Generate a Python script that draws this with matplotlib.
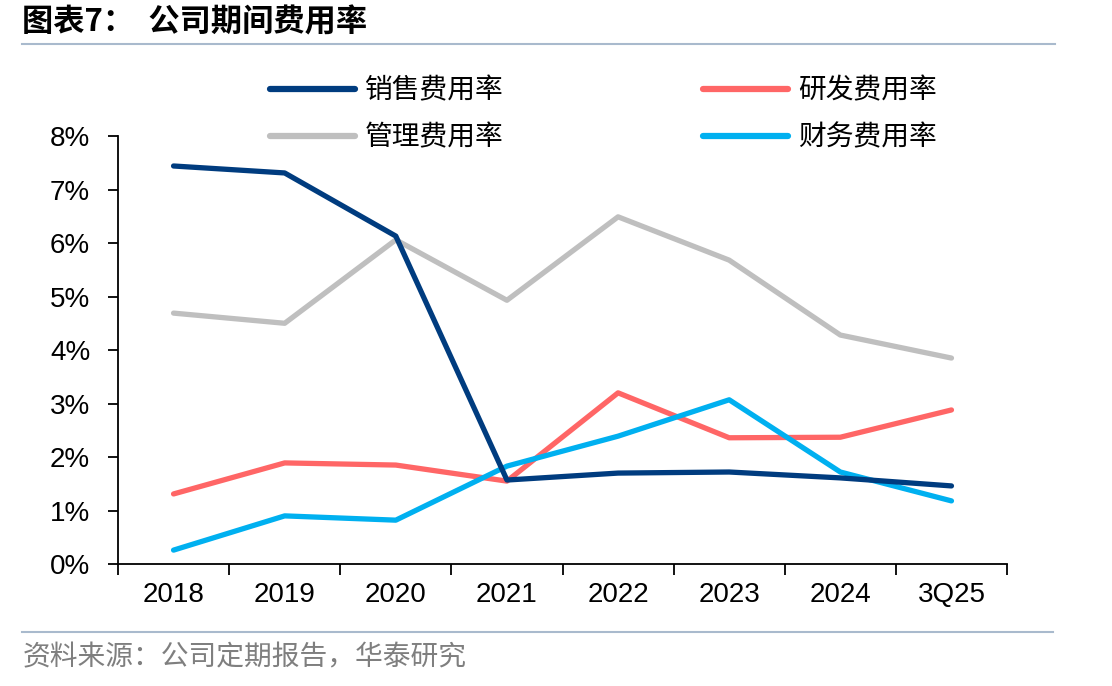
import numpy as np
import matplotlib as mpl
import matplotlib.pyplot as plt
from matplotlib.lines import Line2D

mpl.use('Agg')
plt.rcParams['font.family'] = ['Noto Sans CJK SC', 'DejaVu Sans']

years = ['2018', '2019', '2020', '2021', '2022', '2023', '2024', '3Q25']
sales = [7.44, 7.31, 6.13, 1.57, 1.70, 1.72, 1.61, 1.46]
rnd = [1.31, 1.89, 1.85, 1.55, 3.20, 2.36, 2.37, 2.88]
admin = [4.69, 4.50, 6.06, 4.93, 6.49, 5.68, 4.28, 3.85]
finance = [0.26, 0.90, 0.82, 1.83, 2.39, 3.07, 1.72, 1.18]

sales_s = ('销售费用率', sales, '#003C7F')
rnd_s = ('研发费用率', rnd, '#FF6666')
admin_s = ('管理费用率', admin, '#BFBFBF')
fin_s = ('财务费用率', finance, '#00B0F0')

fig = plt.figure(figsize=(11.12, 6.86), dpi=100)
ax = fig.add_axes([0.1061, 0.1778, 0.7995, 0.6239])

x = np.arange(len(years))
# admin sits behind the others
for name, vals, col in [admin_s, rnd_s, fin_s, sales_s]:
    ax.plot(x, vals, color=col, lw=3.8, solid_capstyle='round', solid_joinstyle='round')

ax.set_xlim(-0.5, len(years) - 0.5)
ax.set_ylim(0, 8)
ax.set_yticks(range(0, 9))
ax.set_yticklabels([f'{i}%' for i in range(0, 9)], fontsize=20, family='Liberation Sans')
ax.set_xticks(x)
ax.set_xticklabels(years, fontsize=20, family='Liberation Sans')
ax.set_xticks(np.arange(-0.5, len(years)), minor=True)
ax.tick_params(axis='x', which='major', length=0, pad=13)
ax.tick_params(axis='x', which='minor', length=8, width=1.3, direction='out')
ax.tick_params(axis='y', length=7, width=1.3, direction='out', pad=13)
for s in ['top', 'right']:
    ax.spines[s].set_visible(False)
for s in ['left', 'bottom']:
    ax.spines[s].set_linewidth(1.3)

# legend: ncol=2 fills column-wise, so order is col1 then col2
order = [sales_s, admin_s, rnd_s, fin_s]
handles = [Line2D([0], [0], color=c, lw=4.5, solid_capstyle='round') for _, _, c in order]
labels = [n for n, _, _ in order]
leg = fig.legend(handles, labels, ncol=2, loc='center', bbox_to_anchor=(0.5427, 0.834),
                 frameon=False, fontsize=20, handlelength=3.06, columnspacing=7.2,
                 labelspacing=0.62, handletextpad=0.36)

# title and separator lines
fig.text(0.02, 0.967, '图表7：  公司期间费用率', fontsize=22.5, fontweight='bold',
         va='center', ha='left')
fig.add_artist(Line2D([0.02, 0.949], [0.936, 0.936], color='#A9BACD', lw=1.5))
fig.add_artist(Line2D([0.02, 0.947], [0.079, 0.079], color='#A9BACD', lw=1.5))
fig.text(0.02, 0.042, '资料来源：公司定期报告，华泰研究', fontsize=20, color='#7F7F7F',
         va='center', ha='left')

fig.savefig('out.png', dpi=100)
plt.close(fig)
